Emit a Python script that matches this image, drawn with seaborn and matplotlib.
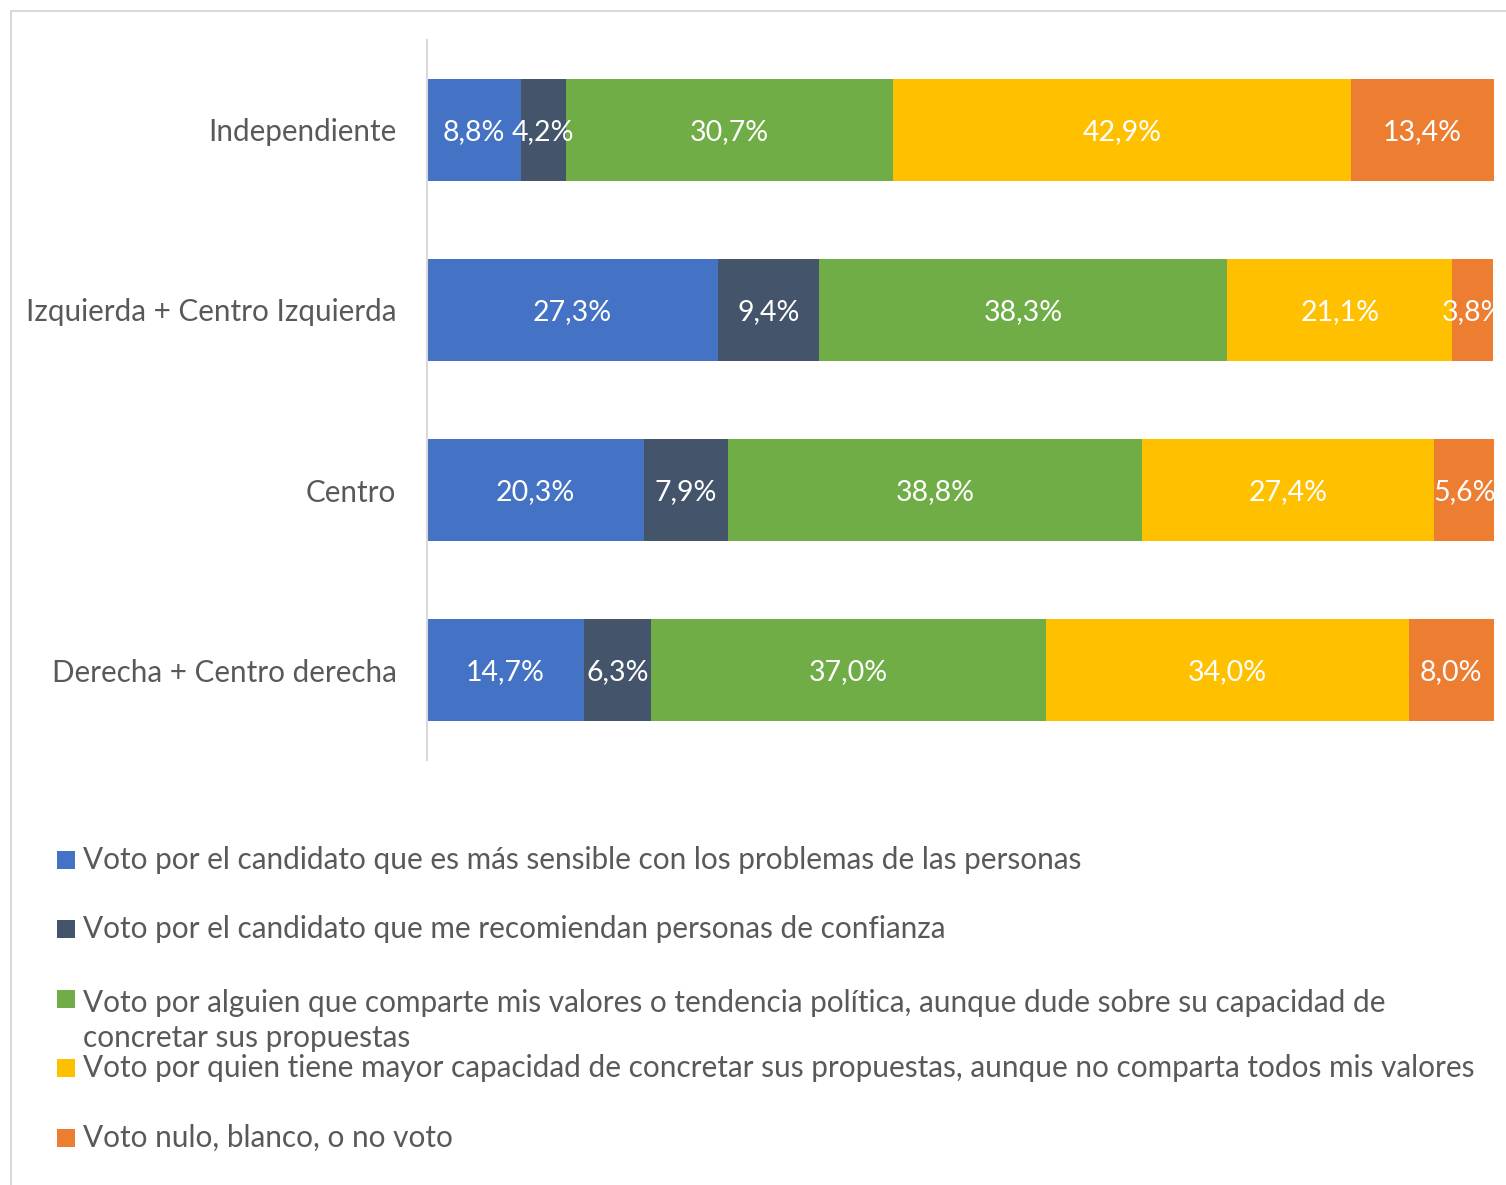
import matplotlib
matplotlib.use("Agg")
import matplotlib.pyplot as plt
from matplotlib.patches import Rectangle
import numpy as np
import pandas as pd
import seaborn as sns

# data
categories = ["Independiente", "Izquierda + Centro Izquierda", "Centro", "Derecha + Centro derecha"]
sensible = [8.8, 27.3, 20.3, 14.7]
confianza = [4.2, 9.4, 7.9, 6.3]
valores = [30.7, 38.3, 38.8, 37.0]
capacidad = [42.9, 21.1, 27.4, 34.0]
nulo = [13.4, 3.8, 5.6, 8.0]

series_labels = [
    "Voto por el candidato que es más sensible con los problemas de las personas",
    "Voto por el candidato que me recomiendan personas de confianza",
    "Voto por alguien que comparte mis valores o tendencia política, aunque dude sobre su capacidad de\nconcretar sus propuestas",
    "Voto por quien tiene mayor capacidad de concretar sus propuestas, aunque no comparta todos mis valores",
    "Voto nulo, blanco, o no voto",
]
colors = ["#4472C4", "#44546A", "#70AD47", "#FFC000", "#ED7D31"]

sns.set_style("white")
plt.rcParams["font.family"] = ["Lato", "DejaVu Sans"]

W, H = 1506, 1185
fig = plt.figure(figsize=(W / 100, H / 100), dpi=100)
ax = fig.add_axes([427 / W, 1 - 760 / H, (1494 - 427) / W, 720 / H])

vals = np.array([sensible, confianza, valores, capacidad, nulo])  # series x categories
cum = np.cumsum(vals, axis=0)

# stacked bars: draw cumulative totals from the outermost segment inwards
for i in range(len(vals) - 1, -1, -1):
    df = pd.DataFrame({"cat": categories, "val": cum[i]})
    sns.barplot(data=df, x="val", y="cat", orient="h", color=colors[i],
                saturation=1, width=0.572, linewidth=0, ax=ax)

# segment labels
for i in range(len(vals)):
    for j, cat in enumerate(categories):
        v = vals[i, j]
        xc = cum[i, j] - v / 2
        ax.text(xc, j, f"{v:.1f}".replace(".", ",") + "%", ha="center", va="center_baseline",
                color="white", fontsize=20.5, clip_on=True)

ax.set_xlim(0, 100)
ax.set_ylim(len(categories) - 0.5, -0.5)
ax.set_xlabel("")
ax.set_ylabel("")
ax.set_xticks([])
ax.tick_params(axis="y", length=0, pad=22, labelsize=21.3, labelcolor="#595959")
for lbl in ax.get_yticklabels():
    lbl.set_verticalalignment("center_baseline")
for s in ["top", "right", "bottom"]:
    ax.spines[s].set_visible(False)
ax.spines["left"].set_color("#D9D9D9")
ax.spines["left"].set_linewidth(1.5)

# outer frame of the chart area
fig.add_artist(Rectangle((11 / W, -0.1), 1.2, 1.1 - 11 / H, transform=fig.transFigure,
                         fill=False, edgecolor="#D9D9D9", linewidth=1.5))

# legend, one entry per row (marker aligned with the first line)
baselines = [869, 938, 1008, 1077, 1147]
line_gap = 39
for lab, col, yb in zip(series_labels, colors, baselines):
    fig.add_artist(Rectangle((57 / W, 1 - yb / H), 18 / W, 18 / H,
                             transform=fig.transFigure, color=col, linewidth=0))
    last = yb + line_gap * lab.count("\n")
    fig.text(83 / W, 1 - last / H, lab, ha="left", va="baseline", fontsize=21.4,
             color="#595959", linespacing=1.31)

fig.savefig("out.png", dpi=100)
